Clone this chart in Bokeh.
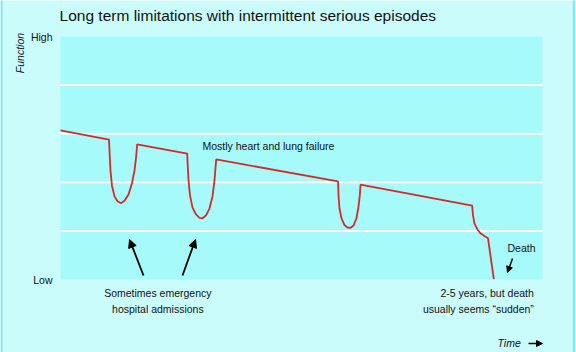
import math
from bokeh.plotting import figure
from bokeh.models import Range1d, Label, Arrow, NormalHead
from bokeh.embed import file_html
from bokeh.resources import INLINE

# Data: time (0-100) vs function (0=Low .. 5=High)
time_vals = [0.0, 10.06,
             10.17, 10.37, 10.68, 11.20, 11.83, 12.55, 13.28, 14.11, 14.83, 15.35, 15.66, 15.91,
             26.29,
             26.39, 26.56, 26.87, 27.39, 28.11, 28.84, 29.46, 30.19, 30.91, 31.54, 31.95, 32.30,
             57.57,
             57.68, 57.88, 58.30, 58.92, 59.54, 60.17, 60.79, 61.41, 61.83, 62.10, 62.24,
             85.41,
             85.58, 85.89, 86.51, 87.14, 87.86, 88.69, 89.90]
function_vals = [3.07, 2.88,
                 2.65, 2.24, 1.93, 1.71, 1.61, 1.57, 1.62, 1.75, 1.98, 2.24, 2.49, 2.78,
                 2.59,
                 2.35, 2.04, 1.73, 1.48, 1.34, 1.27, 1.26, 1.32, 1.46, 1.71, 2.04, 2.47,
                 2.02,
                 1.73, 1.46, 1.26, 1.12, 1.07, 1.06, 1.11, 1.26, 1.50, 1.73, 1.95,
                 1.52,
                 1.32, 1.15, 1.03, 0.95, 0.90, 0.85, 0.01]
tick_positions = [0, 5]
tick_labels = ["Low", "High"]
grid_levels = [1, 2, 3, 4]
x_min, x_max = 0, 100
y_min, y_max = 0, 5

FONT = "Liberation Sans"
TXT = "#111111"

# frame spans the whole canvas; plot panel drawn as a quad
p = figure(width=576, height=352, output_backend="svg", toolbar_location=None,
           x_range=Range1d(-60 / 4.82, 516 / 4.82), y_range=Range1d(-73 / 48.6, 279 / 48.6),
           min_border=0)
p.axis.visible = False
p.grid.visible = False
p.outline_line_color = None
p.background_fill_color = "#cbfcfc"
p.border_fill_color = "#cbfcfc"

p.quad(left=x_min, right=x_max, bottom=y_min, top=y_max,
       fill_color="#a6fafa", line_color=None)
p.segment(x0=[x_min] * len(grid_levels), x1=[x_max] * len(grid_levels),
          y0=grid_levels, y1=grid_levels, line_color="white", line_width=2)

# tick labels
for yv, t in zip(tick_positions, tick_labels):
    p.add_layout(Label(x=x_min - 1.66, y=yv, text=t, text_font="Liberation Sans",
                       text_font_size="10.5px", text_align="right",
                       text_baseline="middle", text_color=TXT))

p.line(time_vals, function_vals, line_color="#d42a2a", line_width=1.8)

def lab(x, y, text, size="10.5px", align="left", style="normal", angle=0):
    p.add_layout(Label(x=x, y=y, text=text, text_font=FONT, text_font_size=size,
                       text_align=align, text_baseline="middle", text_color=TXT,
                       text_font_style=style, angle=angle))

lab(-0.2, 5.43, "Long term limitations with intermittent serious episodes", size="15.5px")
lab(-8.5, 4.66, "Function", style="italic", align="center", angle=math.pi / 2)
lab(29.46, 2.757, "Mostly heart and lung failure")
lab(20.2, -0.288, "Sometimes emergency", align="center")
lab(20.2, -0.603, "hospital admissions", align="center")
lab(98.2, -0.288, "2-5 years, but death", align="right")
lab(98.2, -0.603, "usually seems \u201csudden\u201d", align="right")
lab(92.74, 0.638, "Death")
lab(90.66, -1.30, "Time", style="italic")

def arrow(x0, y0, x1, y1, size=8, w=1.8):
    p.add_layout(Arrow(end=NormalHead(size=size, fill_color="black", line_color="black"),
                       x_start=x0, y_start=y0, x_end=x1, y_end=y1,
                       line_color="black", line_width=w))

arrow(17.22, 0.082, 14.32, 0.823)
arrow(25.31, 0.082, 28.01, 0.823)
arrow(93.78, 0.432, 92.74, 0.144, size=6, w=1.5)
arrow(97.1, -1.317, 100.0, -1.317, size=6, w=1.5)

# side border strips
p.segment(x0=[-12.24, 106.5], x1=[-12.24, 106.5], y0=[5.8, 5.8], y1=[-1.55, -1.55],
          line_color="#86e4e4", line_width=2)

open("out.html", "w").write(file_html(p, INLINE))
